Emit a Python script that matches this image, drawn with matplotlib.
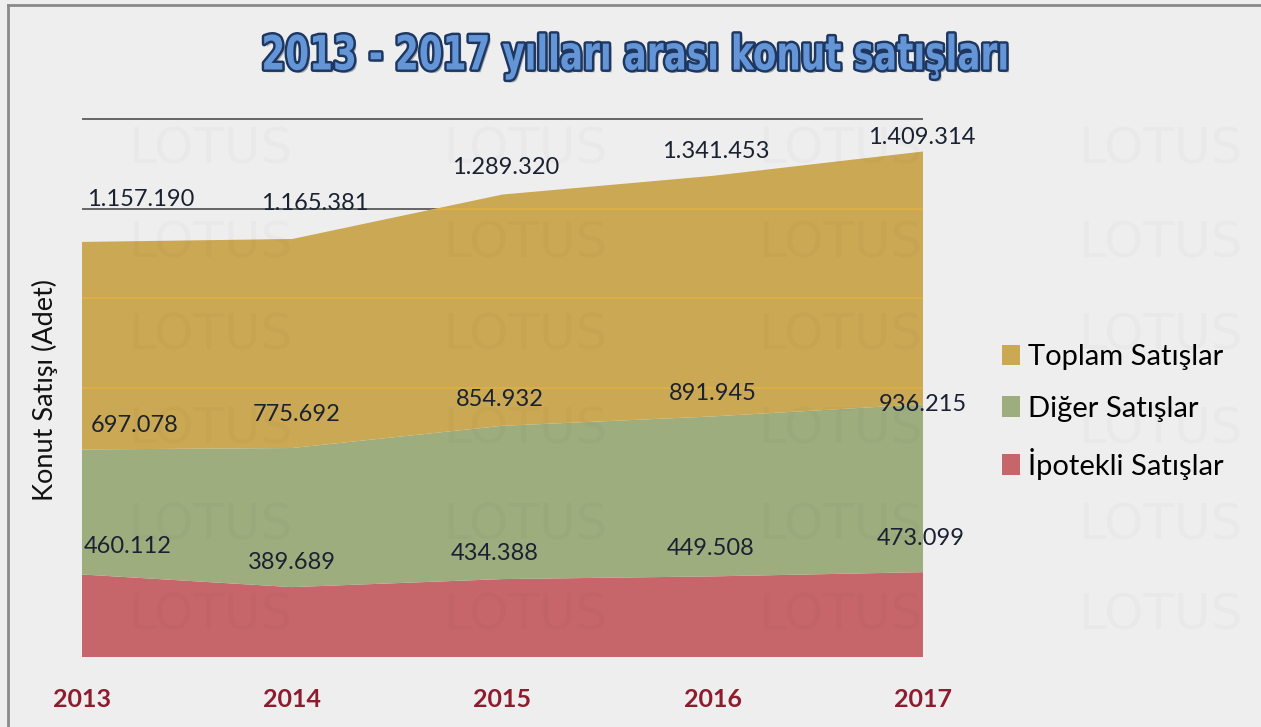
import numpy as np
import matplotlib
matplotlib.use("Agg")
import matplotlib.pyplot as plt
import matplotlib.patheffects as pe
from matplotlib.patches import Patch
from matplotlib.lines import Line2D
from matplotlib.transforms import Affine2D

# --- data ---
years = [2013, 2014, 2015, 2016, 2017]
ipotekli = [460112, 389689, 434388, 449508, 473099]
diger = [697078, 775692, 854932, 891945, 936215]
toplam = [1157190, 1165381, 1289320, 1341453, 1409314]
series_names = ["Toplam Satışlar", "Diğer Satışlar", "İpotekli Satışlar"]

# label nudges (pixels) for each layer
off_top = [(59, 42), (23, 35), (3, 27), (3, 24), (-1, 14)]
off_mid = [(53, 24), (4, 33), (-3, 26), (0, 23), (0, 0)]
off_low = [(46, 28), (0, 25), (-8, 26), (-2, 28), (-2, 34)]

bg = "#EEEEEE"
c_red = "#C6666A"
c_green = "#9EAD7E"
c_gold = "#CBA853"
label_font = ["Lato", "DejaVu Sans"]


def fmt(v):
    return f"{v:,}".replace(",", ".")


class Squeeze(pe.AbstractPathEffect):
    # narrows the glyphs horizontally around x0 (display pixels)
    def __init__(self, inner, sx, x0):
        super().__init__()
        self.inner, self.sx, self.x0 = inner, sx, x0

    def draw_path(self, renderer, gc, tpath, affine, rgbFace=None):
        sq = Affine2D().translate(-self.x0, 0).scale(self.sx, 1).translate(self.x0, 0)
        self.inner.draw_path(renderer, gc, tpath, affine + sq, rgbFace)


fig = plt.figure(figsize=(12.61, 7.27), dpi=100, facecolor=bg)
ax = fig.add_axes([82 / 1261, 70 / 727, (923 - 82) / 1261, 547 / 727])
ax.set_facecolor(bg)

polys = ax.stackplot(years, ipotekli, diger, toplam,
                     colors=[c_red, c_green, c_gold], zorder=2)

ax.set_xlim(2013, 2017)
ax.set_ylim(0, 3.05e6)
ax.set_yticks(np.arange(500000, 3000001, 500000))
ax.yaxis.grid(True, color="#5A5A5A", lw=1.3)
ax.set_axisbelow(True)
ax.tick_params(axis="y", length=0, labelleft=False)

# faint gridlines showing through the gold layer
for yv in np.arange(500000, 3000001, 500000):
    ln = ax.axhline(yv, color="#E3B43E", lw=1.2, alpha=0.8, zorder=3)
    ln.set_clip_path(polys[2].get_paths()[0], ax.transData)

for s in ax.spines.values():
    s.set_visible(False)

ax.set_xticks(years)
ax.set_xticklabels([str(y) for y in years], fontsize=18, fontweight="bold",
                   color="#8E1C2E", family=label_font)
ax.tick_params(axis="x", length=0, pad=22)

# value labels
low_top = np.array(ipotekli)
mid_top = low_top + np.array(diger)
all_top = mid_top + np.array(toplam)
for i, x in enumerate(years):
    for val, ypos, off in [(toplam[i], all_top[i], off_top[i]),
                           (diger[i], mid_top[i], off_mid[i]),
                           (ipotekli[i], low_top[i], off_low[i])]:
        ax.annotate(fmt(val), (x, ypos), xytext=off, textcoords="offset pixels",
                    ha="center", va="center", fontsize=17, color="#1A2232",
                    family=label_font, annotation_clip=False, zorder=5)

# legend
handles = [Patch(facecolor=c, edgecolor="none") for c in [c_gold, c_green, c_red]]
fig.legend(handles, series_names, loc="upper left",
           bbox_to_anchor=(976 / 1261, (727 - 318) / 727),
           frameon=False, handlelength=0.6, handleheight=0.7,
           handletextpad=0.3, labelspacing=0.88,
           prop={"family": label_font, "size": 21})

fig.text(45 / 1261, (727 - 390) / 727, "Konut Satışı (Adet)", rotation=90, ha="center",
         va="center", fontsize=19.5, color="#111111", family=label_font)

# title
fx0 = 636
fig.text(fx0 / 1261, (727 - 57) / 727, "2013 - 2017 yılları arası konut satışları",
         ha="center", va="center", fontsize=34, fontweight="bold",
         family="DejaVu Sans", color="#6495D6",
         path_effects=[Squeeze(pe.SimplePatchShadow(offset=(2, -2), alpha=0.35), 0.726, fx0),
                       Squeeze(pe.Stroke(linewidth=3.5, foreground="#1E3760"), 0.726, fx0),
                       Squeeze(pe.Normal(), 0.726, fx0)])

# watermark
for wx in [210, 525, 840, 1160]:
    for wy in [150, 243, 335, 430, 525, 615]:
        fig.text(wx / 1261, (727 - wy) / 727, "LOTUS", ha="center", va="center",
                 fontsize=36, color="#000000", alpha=0.02, family="DejaVu Sans")

# outer frame (left and top edges)
fig.add_artist(Line2D([8 / 1261, 8 / 1261], [0, (727 - 5) / 727],
                      transform=fig.transFigure, color="#8A8A8A", lw=2))
fig.add_artist(Line2D([8 / 1261, 1], [(727 - 5) / 727, (727 - 5) / 727],
                      transform=fig.transFigure, color="#8A8A8A", lw=2))

fig.savefig("out.png", dpi=100, facecolor=bg)
